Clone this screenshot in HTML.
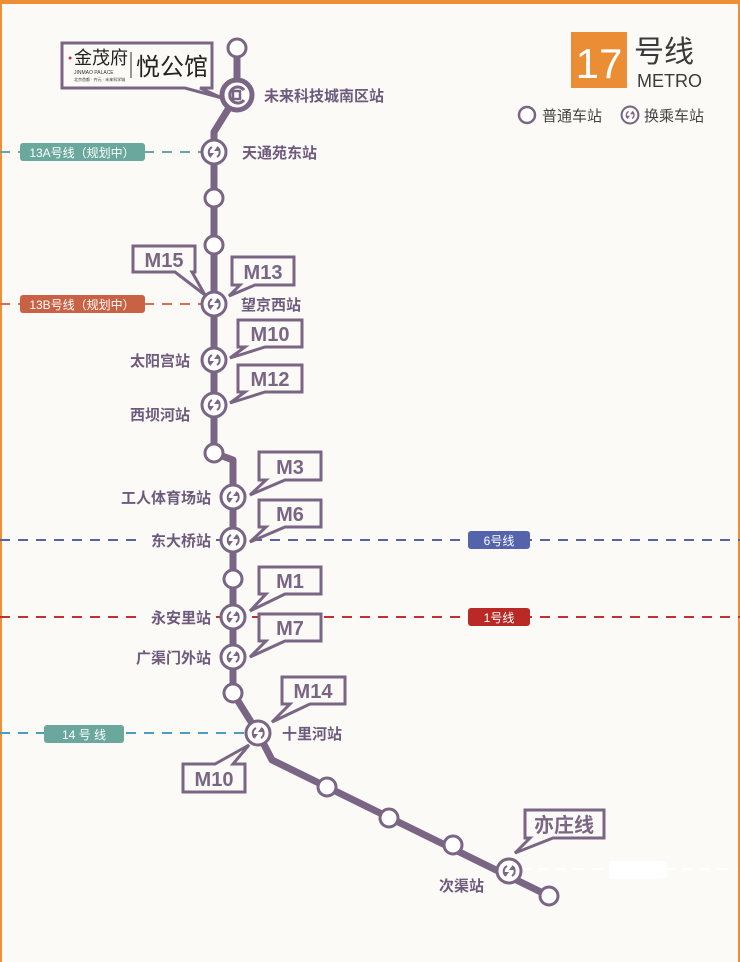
<!DOCTYPE html>
<html><head><meta charset="utf-8"><style>
html,body{margin:0;padding:0;background:#fbfaf6}
svg{display:block}
text{font-family:"Liberation Sans","Noto Sans CJK SC",sans-serif}
.st{font-size:15px;font-weight:bold;fill:#6e5a7c}
.cb{fill:#fbfaf6;stroke:#7a6585;stroke-width:3}
.ct{font-size:20px;font-weight:bold;fill:#7a6585;text-anchor:middle}
</style></head><body>
<svg width="740" height="962" viewBox="0 0 740 962" xmlns="http://www.w3.org/2000/svg">
<defs>
<g id="ic"><circle r="12" fill="#fff" stroke="#7a6585" stroke-width="3"/>
<path d="M-2,-5 A6,6 0 0 0 -3,5 M3,5 A6,6 0 0 0 3,-5" fill="none" stroke="#7a6585" stroke-width="2"/>
<path d="M-6,1 L-3,5 L0,1 Z M6,-1 L3,-5 L0,-1 Z" fill="#7a6585"/></g>
<circle id="ns" r="9" fill="#fff" stroke="#7a6585" stroke-width="3"/>
</defs>
<rect x="0" y="0" width="740" height="962" fill="#fbfaf6"/>
<rect x="0" y="0" width="740" height="4" fill="#ef8f35"/>
<rect x="0" y="0" width="2" height="962" fill="#ef8f35"/>
<rect x="738" y="0" width="2" height="962" fill="#ef8f35"/>

<g stroke-width="2" stroke-dasharray="10,8" fill="none">
<line x1="0" y1="152" x2="205" y2="152" stroke="#6aa79c"/>
<line x1="0" y1="304" x2="205" y2="304" stroke="#d96d4e"/>
<line x1="0" y1="540" x2="740" y2="540" stroke="#5563ad"/>
<line x1="0" y1="617" x2="740" y2="617" stroke="#c0322e"/>
<line x1="0" y1="733" x2="250" y2="733" stroke="#4a9cc0"/>
<line x1="520" y1="869" x2="738" y2="869" stroke="#fff"/>
</g>
<rect x="138" y="530" width="78" height="20" fill="#fbfaf6"/>
<rect x="138" y="607" width="78" height="20" fill="#fbfaf6"/>
<rect x="20" y="143" width="125" height="18" rx="3" fill="#6aa79c"/>
<text x="82" y="157" font-size="12" fill="#fff" text-anchor="middle">13A号线（规划中）</text>
<rect x="20" y="295" width="125" height="18" rx="3" fill="#c96245"/>
<text x="82" y="309" font-size="12" fill="#fff" text-anchor="middle">13B号线（规划中）</text>
<rect x="468" y="531" width="62" height="18" rx="3" fill="#5563ad"/>
<text x="499" y="545" font-size="12" fill="#fff" text-anchor="middle">6号线</text>
<rect x="468" y="608" width="62" height="18" rx="3" fill="#b92a27"/>
<text x="499" y="622" font-size="12" fill="#fff" text-anchor="middle">1号线</text>
<rect x="44" y="725" width="80" height="18" rx="3" fill="#6aa79c"/>
<text x="84" y="739" font-size="12" fill="#fff" text-anchor="middle">14 号 线</text>
<rect x="609" y="861" width="58" height="18" rx="3" fill="#fff"/>

<path d="M237,48 L237,95 L214,132 L214,453 L233,460 L233,693 L258,733 L272,760 L327,787 L549,896" fill="none" stroke="#7a6585" stroke-width="7" stroke-linejoin="round"/>

<use href="#ns" x="237" y="48"/>
<circle cx="237" cy="95" r="15" fill="#fff" stroke="#7a6585" stroke-width="5"/>
<path d="M244,90 A8,8 0 1 0 244,100" fill="none" stroke="#7a6585" stroke-width="3"/>
<rect x="233" y="91" width="7" height="8" fill="none" stroke="#7a6585" stroke-width="2.5"/>
<use href="#ic" x="214" y="152"/>
<use href="#ns" x="214" y="198"/>
<use href="#ns" x="214" y="245"/>
<use href="#ic" x="214" y="304"/>
<use href="#ic" x="214" y="360"/>
<use href="#ic" x="214" y="405"/>
<use href="#ns" x="214" y="453"/>
<use href="#ic" x="233" y="497"/>
<use href="#ic" x="233" y="540"/>
<use href="#ns" x="233" y="579"/>
<use href="#ic" x="233" y="617"/>
<use href="#ic" x="233" y="657"/>
<use href="#ns" x="233" y="693"/>
<use href="#ic" x="258" y="733"/>
<use href="#ns" x="327" y="787"/>
<use href="#ns" x="389" y="818"/>
<use href="#ns" x="453" y="845"/>
<use href="#ic" x="509" y="871"/>
<use href="#ns" x="549" y="896"/>

<text class="st" x="264" y="101" font-size="16">未来科技城南区站</text>
<text class="st" x="242" y="158" font-size="16">天通苑东站</text>
<text class="st" x="241" y="310" font-size="16">望京西站</text>
<text class="st" x="190" y="366" text-anchor="end">太阳宫站</text>
<text class="st" x="190" y="420" text-anchor="end">西坝河站</text>
<text class="st" x="211" y="503" text-anchor="end">工人体育场站</text>
<text class="st" x="211" y="546" text-anchor="end">东大桥站</text>
<text class="st" x="211" y="623" text-anchor="end">永安里站</text>
<text class="st" x="211" y="663" text-anchor="end">广渠门外站</text>
<text class="st" x="282" y="739" font-size="16">十里河站</text>
<text class="st" x="439" y="891">次渠站</text>

<g>
<path class="cb" d="M62,43 H212 V88 H200 L222,98 L185,88 H62 Z"/>
<text x="68" y="60" font-size="7" fill="#c0322e">●</text>
<text x="74" y="64" font-size="18" font-family="'Noto Serif CJK SC',serif" fill="#222">金茂府</text>
<text x="74" y="74" font-size="5" fill="#333">JINMAO   PALACE</text>
<text x="74" y="81" font-size="4" fill="#333">北京首都 · 齐元 · 未来科学城</text>
<line x1="131" y1="52" x2="131" y2="78" stroke="#333" stroke-width="1"/>
<text x="136" y="75" font-size="24" font-family="'Noto Serif CJK SC',serif" fill="#222">悦公馆</text>

<path class="cb" d="M133,246 H195 V272 H192 L205,295 L175,272 H133 Z"/><text class="ct" x="164" y="267">M15</text>
<path class="cb" d="M232,257 H294 V285 H255 L229,296 L240,285 H232 Z"/><text class="ct" x="263" y="279">M13</text>
<path class="cb" d="M238,320 H302 V347 H265 L230,358 L245,347 H238 Z"/><text class="ct" x="270" y="341">M10</text>
<path class="cb" d="M238,365 H302 V392 H265 L230,403 L245,392 H238 Z"/><text class="ct" x="270" y="386">M12</text>
<path class="cb" d="M259,452 H321 V480 H285 L250,495 L266,480 H259 Z"/><text class="ct" x="290" y="474">M3</text>
<path class="cb" d="M259,500 H321 V527 H285 L250,542 L266,527 H259 Z"/><text class="ct" x="290" y="521">M6</text>
<path class="cb" d="M259,567 H321 V594 H285 L250,611 L266,594 H259 Z"/><text class="ct" x="290" y="588">M1</text>
<path class="cb" d="M259,614 H321 V641 H285 L250,657 L266,641 H259 Z"/><text class="ct" x="290" y="635">M7</text>
<path class="cb" d="M282,677 H345 V704 H310 L272,722 L290,704 H282 Z"/><text class="ct" x="313" y="698">M14</text>
<path class="cb" d="M183,764 H215 L249,745 L233,764 H245 V792 H183 Z"/><text class="ct" x="214" y="786">M10</text>
<path class="cb" d="M525,810 H604 V838 H553 L515,853 L530,838 H525 Z"/><text class="ct" x="564" y="832">亦庄线</text>
</g>

<rect x="571" y="32" width="56" height="56" fill="#ea8d35"/>
<text x="599" y="78" font-size="42" fill="#fff" text-anchor="middle">17</text>
<text x="634" y="62" font-size="30" fill="#3a3a3a">号线</text>
<text x="637" y="87" font-size="18" fill="#3a3a3a">METRO</text>
<circle cx="527" cy="115" r="8" fill="#fff" stroke="#7a6585" stroke-width="2.5"/>
<text x="542" y="121" font-size="15" fill="#444">普通车站</text>
<g transform="translate(630,115) scale(0.7)"><use href="#ic"/></g>
<text x="644" y="121" font-size="15" fill="#444">换乘车站</text>
</svg>
</body></html>
